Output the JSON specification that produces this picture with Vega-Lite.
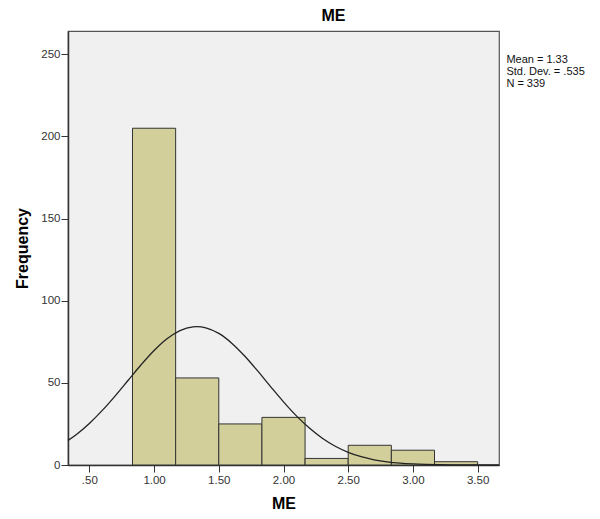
{
  "$schema": "https://vega.github.io/schema/vega-lite/v6.json",
  "autosize": "none",
  "width": 431,
  "height": 434,
  "padding": {"left": 68, "top": 31, "right": 101, "bottom": 54},
  "background": "white",
  "title": {"text": "ME", "fontSize": 16, "fontWeight": "bold", "font": "Liberation Sans", "color": "#000", "dx": 50, "offset": 7},
  "config": {
    "view": {"fill": "#f0f0f0", "stroke": "#555", "strokeWidth": 1.2},
    "axis": {"labelFont": "Liberation Sans", "titleFont": "Liberation Sans", "labelFontSize": 11.5, "labelColor": "#333", "titleFontSize": 16, "titleFontWeight": "bold", "titleColor": "#000", "grid": false, "domainColor": "#333", "tickColor": "#333", "domainWidth": 1.5}
  },
  "datasets": {
    "bins": [
      {"start": 0.8333, "end": 1.1667, "count": 205},
      {"start": 1.1667, "end": 1.5, "count": 53},
      {"start": 1.5, "end": 1.8333, "count": 25},
      {"start": 1.8333, "end": 2.1667, "count": 29},
      {"start": 2.1667, "end": 2.5, "count": 4},
      {"start": 2.5, "end": 2.8333, "count": 12},
      {"start": 2.8333, "end": 3.1667, "count": 9},
      {"start": 3.1667, "end": 3.5, "count": 2}
    ],
    "curve": [
      {"x": 0.335, "y": 14.95}, {"x": 0.4, "y": 18.6}, {"x": 0.5, "y": 25.3}, {"x": 0.6, "y": 33.22},
      {"x": 0.7, "y": 42.12}, {"x": 0.8, "y": 51.58}, {"x": 0.9, "y": 61.0}, {"x": 1.0, "y": 69.67},
      {"x": 1.1, "y": 76.82}, {"x": 1.2, "y": 81.81}, {"x": 1.3, "y": 84.13}, {"x": 1.33, "y": 84.26},
      {"x": 1.4, "y": 83.54}, {"x": 1.5, "y": 80.11}, {"x": 1.6, "y": 74.18}, {"x": 1.7, "y": 66.34},
      {"x": 1.8, "y": 57.29}, {"x": 1.9, "y": 47.76}, {"x": 2.0, "y": 38.46}, {"x": 2.1, "y": 29.91},
      {"x": 2.2, "y": 22.46}, {"x": 2.3, "y": 16.29}, {"x": 2.4, "y": 11.4}, {"x": 2.5, "y": 7.71},
      {"x": 2.6, "y": 5.04}, {"x": 2.7, "y": 3.18}, {"x": 2.8, "y": 1.93}, {"x": 2.9, "y": 1.14},
      {"x": 3.0, "y": 0.65}, {"x": 3.1, "y": 0.35}, {"x": 3.2, "y": 0.19}, {"x": 3.3, "y": 0.1},
      {"x": 3.4, "y": 0.05}, {"x": 3.5, "y": 0.02}, {"x": 3.665, "y": 0.005}
    ],
    "stats": [
      {"label": "Mean = 1.33", "x": 3.722, "y": 246.5},
      {"label": "Std. Dev. = .535", "x": 3.722, "y": 239.2},
      {"label": "N = 339", "x": 3.722, "y": 232.0}
    ]
  },
  "layer": [
    {
      "data": {"name": "bins"},
      "mark": {"type": "rect", "fill": "#d2cf9a", "stroke": "#333", "strokeWidth": 1},
      "encoding": {
        "x": {"field": "start", "type": "quantitative", "title": "ME",
              "scale": {"domain": [0.335, 3.665], "nice": false, "zero": false},
              "axis": {"values": [0.5, 1, 1.5, 2, 2.5, 3, 3.5], "labelExpr": "datum.value < 1 ? slice(format(datum.value, '.2f'), 1) : format(datum.value, '.2f')", "tickSize": 7, "labelPadding": 2, "titlePadding": 10}},
        "x2": {"field": "end"},
        "y": {"field": "count", "type": "quantitative", "title": "Frequency",
              "scale": {"domain": [0, 264.2], "nice": false},
              "axis": {"values": [0, 50, 100, 150, 200, 250], "tickSize": 7, "labelPadding": 1, "titlePadding": 10}},
        "y2": {"datum": 0}
      }
    },
    {
      "data": {"name": "curve"},
      "mark": {"type": "line", "color": "#222", "strokeWidth": 1.3, "interpolate": "monotone"},
      "encoding": {
        "x": {"field": "x", "type": "quantitative", "title": "ME"},
        "y": {"field": "y", "type": "quantitative", "title": "Frequency"}
      }
    },
    {
      "data": {"name": "stats"},
      "mark": {"type": "text", "align": "left", "baseline": "middle", "font": "Liberation Sans", "fontSize": 11, "color": "#111"},
      "encoding": {
        "x": {"field": "x", "type": "quantitative", "title": "ME"},
        "y": {"field": "y", "type": "quantitative", "title": "Frequency"},
        "text": {"field": "label"}
      }
    }
  ]
}
